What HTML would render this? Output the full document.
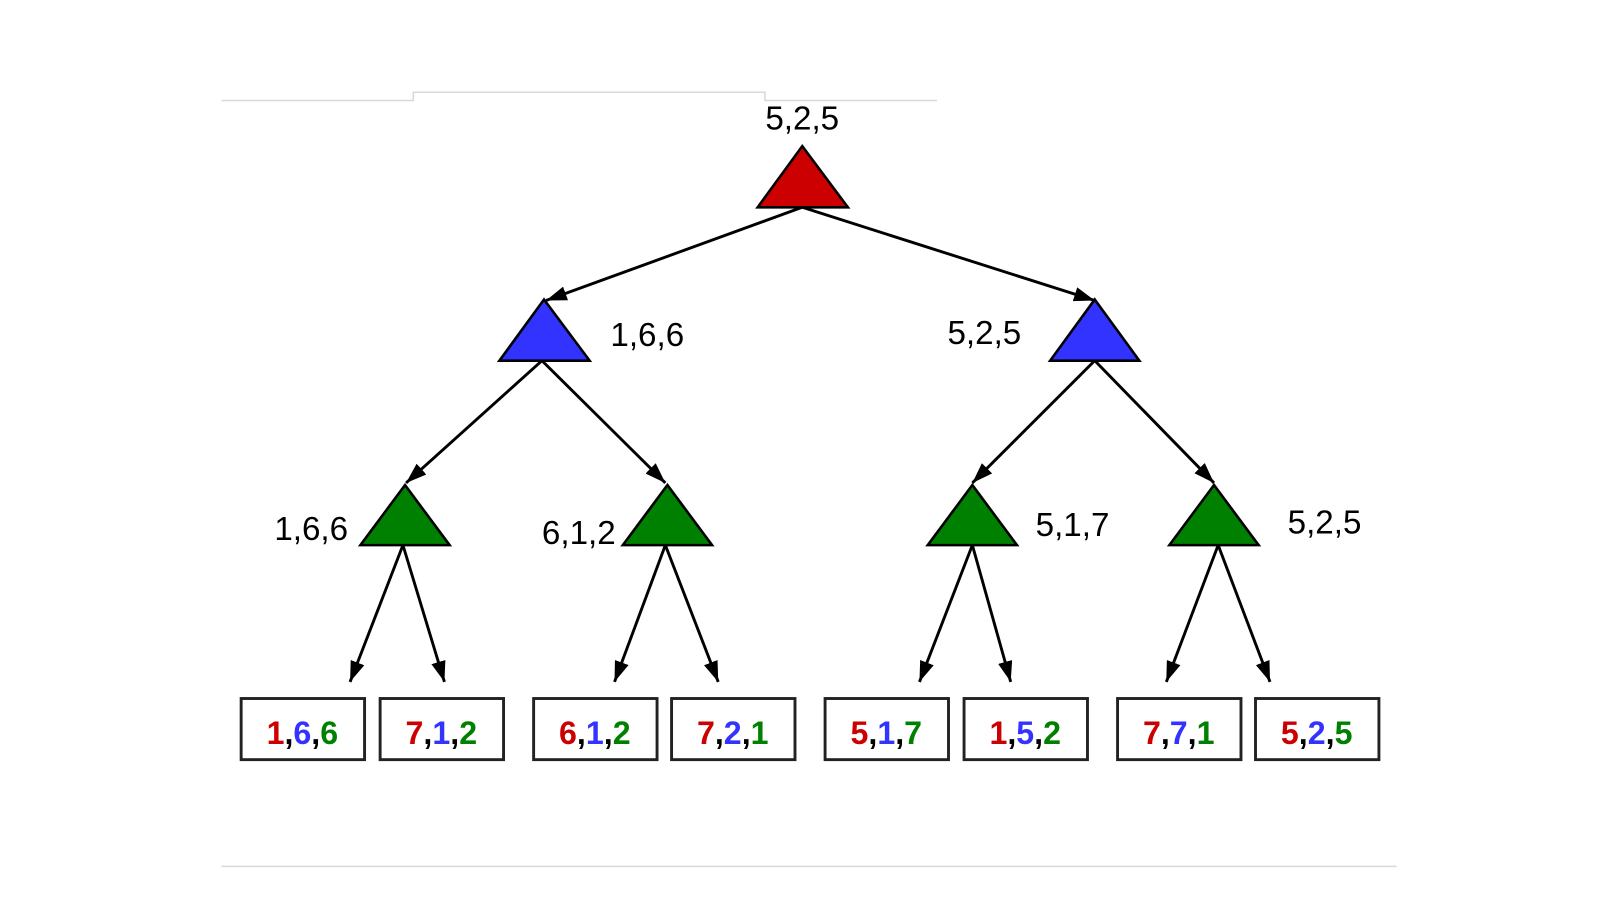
<!DOCTYPE html>
<html><head><meta charset="utf-8"><style>
html,body{margin:0;padding:0;background:#fff;}
svg{display:block;}
text{font-family:"Liberation Sans",sans-serif;}
</style></head><body>
<svg width="1618" height="912" viewBox="0 0 1560 880" preserveAspectRatio="none" xmlns="http://www.w3.org/2000/svg">
<defs>
<marker id="ar" viewBox="0 0 20 14" refX="20" refY="7" markerWidth="20" markerHeight="14" orient="auto" markerUnits="userSpaceOnUse"><path d="M0,0 L20,7 L0,14 z" fill="#000"/></marker>
</defs>
<g transform="translate(-3.5,-2)">
<g stroke="#d8d8d8" stroke-width="1.5" fill="none">
<polyline points="217,99 402,99 402,91 741,91 741,99 907,99"/>
<line x1="217" y1="838" x2="1350" y2="838"/>
</g>
<g stroke="#000" stroke-width="2.8" fill="none" marker-end="url(#ar)">
<line x1="777" y1="202" x2="530" y2="292"/>
<line x1="777" y1="202" x2="1059" y2="292"/>
<line x1="526" y1="350" x2="395" y2="468"/>
<line x1="526" y1="350" x2="645" y2="468"/>
<line x1="1059" y1="350" x2="941" y2="468"/>
<line x1="1059" y1="350" x2="1174" y2="468"/>
<line x1="392" y1="528" x2="341" y2="660"/>
<line x1="392" y1="528" x2="432" y2="660"/>
<line x1="645" y1="528" x2="596" y2="660"/>
<line x1="645" y1="528" x2="696" y2="660"/>
<line x1="941" y1="528" x2="890" y2="660"/>
<line x1="941" y1="528" x2="978" y2="660"/>
<line x1="1178" y1="528" x2="1128" y2="660"/>
<line x1="1178" y1="528" x2="1228" y2="660"/>
</g>
<g stroke="#000" stroke-width="2.5">
<polygon points="777,143 821,202 734,202" fill="#cc0000"/>
<polygon points="528,291 572,350 485,350" fill="#3333ff"/>
<polygon points="1059,291 1102,350 1016,350" fill="#3333ff"/>
<polygon points="394,470 437,528 351,528" fill="#008000"/>
<polygon points="647,470 690,528 604,528" fill="#008000"/>
<polygon points="941,470 984,528 898,528" fill="#008000"/>
<polygon points="1174,470 1217,528 1131,528" fill="#008000"/>
</g>
<g font-size="32" fill="#000">
<text x="777" y="127" text-anchor="middle">5,2,5</text>
<text x="592" y="336">1,6,6</text>
<text x="917" y="334">5,2,5</text>
<text x="268" y="523">1,6,6</text>
<text x="526" y="527">6,1,2</text>
<text x="1002" y="519">5,1,7</text>
<text x="1245" y="517">5,2,5</text>
</g>
<g stroke="#222" stroke-width="2.8" fill="#fff">
<rect x="236" y="676" width="119" height="59"/>
<rect x="370" y="676" width="119" height="59"/>
<rect x="518" y="676" width="119" height="59"/>
<rect x="651" y="676" width="119" height="59"/>
<rect x="799" y="676" width="119" height="59"/>
<rect x="933" y="676" width="119" height="59"/>
<rect x="1081" y="676" width="119" height="59"/>
<rect x="1214" y="676" width="119" height="59"/>
</g>
<g font-size="31" font-weight="bold" text-anchor="middle">
<text x="295" y="720"><tspan fill="#cc0000">1</tspan><tspan fill="#000">,</tspan><tspan fill="#3333ff">6</tspan><tspan fill="#000">,</tspan><tspan fill="#008000">6</tspan></text>
<text x="429" y="720"><tspan fill="#cc0000">7</tspan><tspan fill="#000">,</tspan><tspan fill="#3333ff">1</tspan><tspan fill="#000">,</tspan><tspan fill="#008000">2</tspan></text>
<text x="577" y="720"><tspan fill="#cc0000">6</tspan><tspan fill="#000">,</tspan><tspan fill="#3333ff">1</tspan><tspan fill="#000">,</tspan><tspan fill="#008000">2</tspan></text>
<text x="710" y="720"><tspan fill="#cc0000">7</tspan><tspan fill="#000">,</tspan><tspan fill="#3333ff">2</tspan><tspan fill="#000">,</tspan><tspan fill="#008000">1</tspan></text>
<text x="858" y="720"><tspan fill="#cc0000">5</tspan><tspan fill="#000">,</tspan><tspan fill="#3333ff">1</tspan><tspan fill="#000">,</tspan><tspan fill="#008000">7</tspan></text>
<text x="992" y="720"><tspan fill="#cc0000">1</tspan><tspan fill="#000">,</tspan><tspan fill="#3333ff">5</tspan><tspan fill="#000">,</tspan><tspan fill="#008000">2</tspan></text>
<text x="1140" y="720"><tspan fill="#cc0000">7</tspan><tspan fill="#000">,</tspan><tspan fill="#3333ff">7</tspan><tspan fill="#000">,</tspan><tspan fill="#008000">1</tspan></text>
<text x="1273" y="720"><tspan fill="#cc0000">5</tspan><tspan fill="#000">,</tspan><tspan fill="#3333ff">2</tspan><tspan fill="#000">,</tspan><tspan fill="#008000">5</tspan></text>
</g>
</g>
</svg>
</body></html>
